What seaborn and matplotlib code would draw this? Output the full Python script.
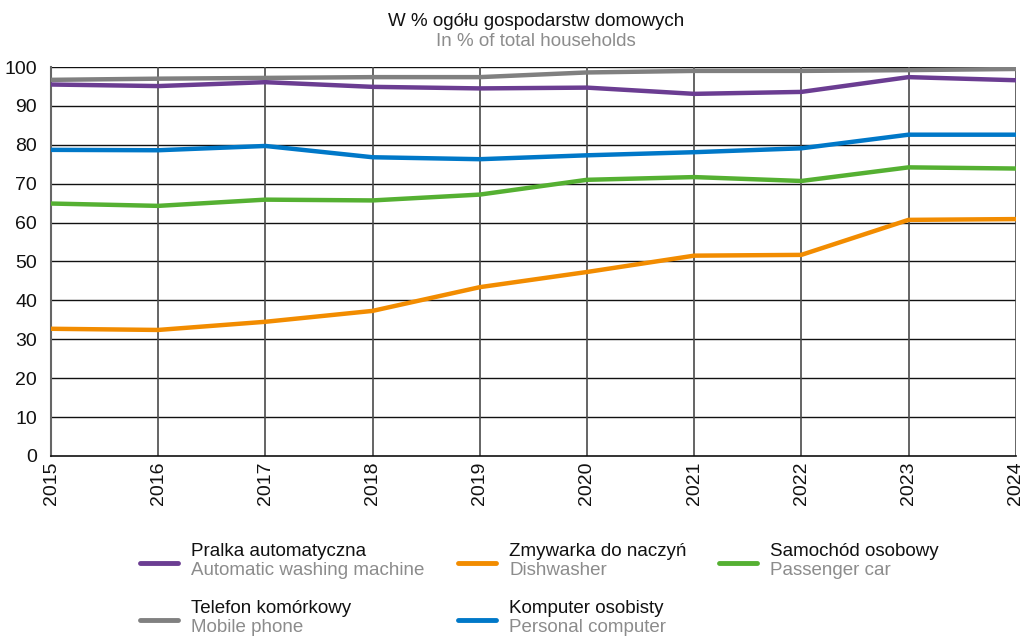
import pandas as pd
import matplotlib.pyplot as plt
import seaborn as sns
from matplotlib.lines import Line2D

# ======================================
# Data
# ======================================
years = [2015, 2016, 2017, 2018, 2019, 2020, 2021, 2022, 2023, 2024]

washing_machine = [95.5, 95.1, 96.1, 94.9, 94.5, 94.7, 93.1, 93.6, 97.4, 96.6]
dishwasher = [32.7, 32.4, 34.5, 37.3, 43.4, 47.3, 51.5, 51.7, 60.7, 60.9]
passenger_car = [64.9, 64.3, 65.9, 65.7, 67.2, 71.0, 71.7, 70.7, 74.2, 73.9]
mobile_phone = [96.7, 97.0, 97.2, 97.4, 97.4, 98.6, 99.0, 99.0, 99.2, 99.5]
personal_computer = [78.7, 78.6, 79.7, 76.8, 76.3, 77.3, 78.1, 79.1, 82.6, 82.6]

series_pl = ["Pralka automatyczna", "Zmywarka do naczyń", "Samochód osobowy",
             "Telefon komórkowy", "Komputer osobisty"]
series_en = ["Automatic washing machine", "Dishwasher", "Passenger car",
             "Mobile phone", "Personal computer"]
series_values = [washing_machine, dishwasher, passenger_car, mobile_phone, personal_computer]
colors = ["#6B3D92", "#F28C00", "#55B032", "#808080", "#0078C8"]

# long-form table for seaborn
rows = []
for name, vals in zip(series_pl, series_values):
    for y, v in zip(years, vals):
        rows.append({"year": y, "value": v, "series": name})
df = pd.DataFrame(rows)

# ======================================
# Plot
# ======================================
sns.set_style("white")
plt.rcParams["font.family"] = ["Liberation Sans", "DejaVu Sans"]

fig = plt.figure(figsize=(10.27, 6.37), dpi=100)
ax = fig.add_axes([0.0497, 0.2842, 0.9393, 0.6106])

# draw back to front so purple/blue sit on top like the original
draw_order = ["Telefon komórkowy", "Samochód osobowy", "Zmywarka do naczyń",
              "Komputer osobisty", "Pralka automatyczna"]
palette = dict(zip(series_pl, colors))
for name in draw_order:
    sns.lineplot(data=df[df["series"] == name], x="year", y="value",
                 color=palette[name], linewidth=3.2, ax=ax, legend=False, zorder=3)

ax.set_xlim(years[0], years[-1])
ax.set_ylim(0, 100)
ax.set_xticks(years)
ax.set_xticklabels([str(y) for y in years], rotation=90, fontsize=14)
ax.set_yticks(range(0, 101, 10))
ax.set_yticklabels([str(v) for v in range(0, 101, 10)], fontsize=14)
ax.tick_params(axis="y", length=0, pad=10, colors="#111111")
ax.tick_params(axis="x", length=0, pad=4, colors="#111111")
ax.set_xlabel("")
ax.set_ylabel("")

# grid
ax.grid(False)
for v in range(10, 101, 10):
    ax.axhline(v, color="#111111", linewidth=1.0, zorder=1)
for y in years:
    ax.axvline(y, color="#4a4a4a", linewidth=1.2, zorder=1)

for side in ["top", "right"]:
    ax.spines[side].set_visible(False)
ax.spines["left"].set_color("#666666")
ax.spines["left"].set_linewidth(1.5)
ax.spines["bottom"].set_color("#111111")
ax.spines["bottom"].set_linewidth(1.2)

# title
fig.text(0.522, 0.966, "W % ogółu gospodarstw domowych", ha="center", va="center",
         fontsize=13.5, color="#111111")
fig.text(0.522, 0.935, "In % of total households", ha="center", va="center",
         fontsize=13.5, color="#8C8C8C")

# ======================================
# Custom two-line legend
# ======================================
legend_pos = [(0.136, 0.116), (0.446, 0.116), (0.700, 0.116),
              (0.136, 0.026), (0.446, 0.026)]
for (lx, ly), pl, en, c in zip(legend_pos, series_pl, series_en, colors):
    fig.add_artist(Line2D([lx, lx + 0.037], [ly, ly], color=c, linewidth=3.5,
                          transform=fig.transFigure))
    fig.text(lx + 0.050, ly + 0.018, pl, ha="left", va="center", fontsize=13.5,
             color="#111111")
    fig.text(lx + 0.050, ly - 0.011, en, ha="left", va="center", fontsize=13.5,
             color="#8C8C8C")

fig.savefig("out.png", dpi=100)
